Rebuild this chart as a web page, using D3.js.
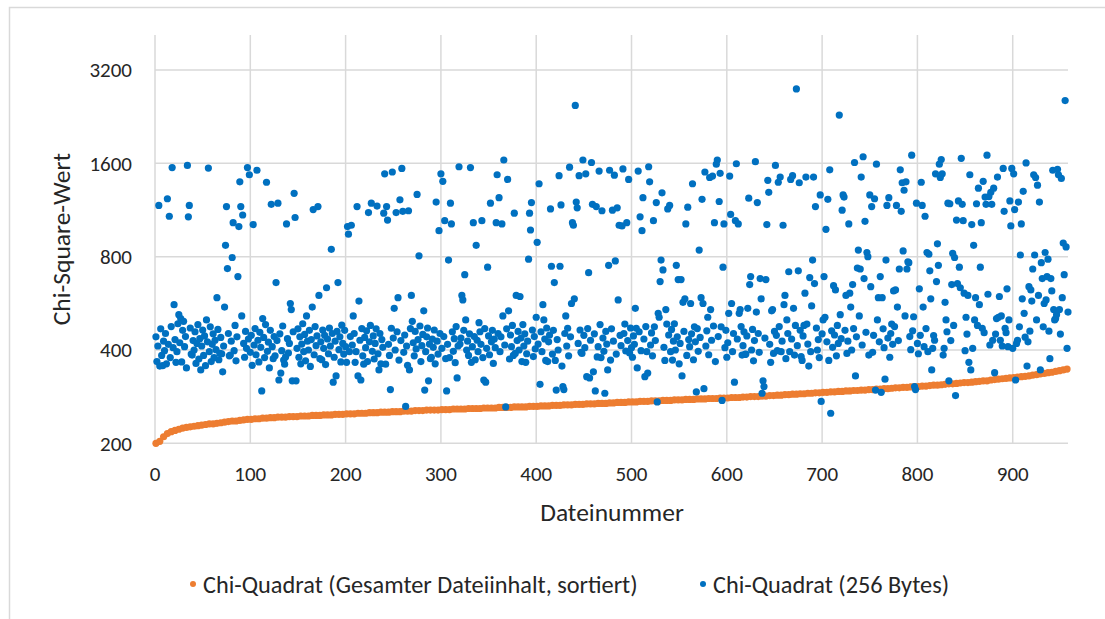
<!DOCTYPE html>
<meta charset="utf-8">

<style>
body { margin: 0; background: #fff; }
text { font-family: Carlito, Lato, sans-serif; fill: #262626; }
.grid line { stroke: #d9d9d9; stroke-width: 1.5; }
.frame { fill: none; stroke: #d9d9d9; stroke-width: 1.5; }
</style>

<svg width="1105" height="619"></svg>
<script src="https://cdn.jsdelivr.net/npm/d3@7"></script>

<script>

// y ticks (log2 axis) and x ticks
var yTicks = [200, 400, 800, 1600, 3200];
var xTicks = [0, 100, 200, 300, 400, 500, 600, 700, 800, 900];

var seriesNames = ["Chi-Quadrat (Gesamter Dateiinhalt, sortiert)", "Chi-Quadrat (256 Bytes)"];

// sorted whole-file values, read every 4th file (files 1, 5, 9, ... 957)
var sortedValues = [
  200,203,210,215,218,220,222,224,225,226,227,228,229,230,231,231,232,233,234,235,
  236,236,237,238,239,239,240,240,241,241,242,242,243,243,243,244,244,244,245,245,
  245,246,246,246,247,247,247,248,248,248,249,249,249,250,250,250,251,251,251,252,
  252,252,253,253,253,254,254,254,255,255,255,256,256,256,256,257,257,257,258,258,
  258,258,259,259,259,259,260,260,260,260,261,261,261,261,262,262,262,262,263,263,
  263,264,264,264,265,265,265,266,266,266,267,267,267,268,268,268,269,269,269,270,
  270,271,271,271,272,272,272,273,273,273,274,274,274,275,275,275,276,276,276,277,
  277,277,278,278,278,279,279,279,280,280,280,281,281,281,282,282,283,283,283,284,
  284,285,285,286,286,287,287,288,288,289,289,290,290,291,291,292,292,293,293,294,
  294,295,295,296,296,297,297,298,298,299,299,300,300,301,302,302,303,303,304,305,
  305,306,306,307,308,308,309,310,311,311,312,313,314,314,315,316,317,318,318,320,
  321,322,323,324,325,326,327,328,329,330,332,333,335,336,338,339,341,343,345,347
];

// chi-square of first 256 bytes, one value per file (files 1..958)
var byteValues = [
  441,367,412,1170,355,468,384,356,427,398,
  452,361,1230,417,1080,378,476,1550,407,560,
  432,365,395,486,520,422,505,366,463,495,
  410,442,350,1575,1075,1170,471,388,385,429,
  400,458,362,420,483,374,435,345,412,464,
  384,444,356,500,425,1545,395,475,367,417,
  451,378,430,401,590,466,372,390,439,389,
  340,412,550,870,1160,732,452,383,385,427,
  795,1030,398,480,369,441,690,1000,1395,1160,
  515,1090,420,379,459,405,1550,434,1470,393,
  446,357,1015,415,469,386,1520,430,366,456,
  408,295,505,439,378,483,1390,396,424,350,
  463,1180,410,375,442,383,660,429,1190,320,
  451,337,398,478,371,360,380,1020,435,391,
  420,565,540,318,458,1280,1070,318,405,468,
  379,441,361,418,486,395,449,369,515,427,
  400,463,354,432,550,1135,386,476,413,444,
  1160,600,375,425,372,464,405,446,359,635,
  434,389,471,412,845,452,315,379,427,330,
  459,660,401,441,366,481,420,388,463,410,
  365,1000,945,395,442,1010,415,515,452,365,
  395,1160,330,575,430,320,469,383,360,439,
  407,461,367,1110,425,480,1190,396,444,374,
  420,468,1165,389,345,452,361,432,408,1105,
  1480,360,1160,1050,417,384,298,470,1500,437,
  545,400,1110,458,590,371,1220,429,1540,1120,
  393,447,263,412,357,1125,345,469,600,495,
  422,383,459,403,1270,432,805,478,367,413,
  449,535,297,395,441,471,318,418,375,379,
  434,408,464,361,1200,427,388,970,452,1480,
  405,1400,442,1045,375,295,417,780,378,1190,
  1020,458,396,435,364,476,325,412,1560,418,
  437,600,580,463,700,500,400,427,384,451,
  1550,365,410,1030,442,372,870,430,395,490,
  458,417,1045,378,320,469,315,405,740,444,
  386,1190,425,463,362,434,407,1030,1470,452,
  1240,395,441,1020,515,1640,415,262,468,1420,
  535,374,447,410,480,384,1105,390,600,429,
  459,400,595,437,367,483,412,451,365,389,
  427,785,1105,975,1195,464,381,442,403,510,
  890,418,1375,310,458,395,560,500,434,370,
  471,367,425,447,1140,745,388,463,660,370,
  297,432,400,1460,745,1175,355,305,298,452,
  515,412,470,383,1555,441,565,1030,1010,585,
  2460,1200,1150,420,1460,464,393,390,1640,446,
  407,1480,328,469,710,325,430,1610,1180,340,
  451,295,1160,380,410,1510,483,378,1125,437,
  396,290,459,418,345,750,1520,371,468,1130,
  427,1465,775,388,1150,580,1010,446,413,1005,
  1535,452,485,397,1030,429,1420,391,471,407,
  379,444,417,545,470,350,1510,458,1075,398,
  970,1240,434,328,476,395,337,1560,1395,415,
  454,383,1045,475,429,1195,272,525,510,665,
  780,1285,725,408,370,540,485,1140,447,1170,
  395,466,371,427,486,400,750,441,675,361,
  420,675,330,570,459,585,1020,384,1155,432,
  410,565,451,1375,372,475,425,293,469,396,
  840,439,590,1225,565,300,1500,412,461,510,
  386,1440,540,430,1455,478,1030,367,1590,1640,
  442,1205,1485,475,275,740,1020,407,463,379,
  422,525,1455,1095,565,395,452,315,1045,1595,
  434,1020,525,540,476,385,413,458,387,388,
  444,545,1235,650,690,400,466,369,429,1620,
  530,1195,452,393,680,585,290,318,305,437,
  675,1015,1410,1290,417,365,535,540,390,459,
  1575,446,398,1390,476,1445,395,427,1010,560,
  600,375,500,452,715,395,1420,434,1460,545,
  385,480,2780,413,720,1385,463,381,370,444,
  480,610,1445,485,418,355,685,395,555,780,
  1445,655,1160,471,400,432,378,1265,273,451,
  500,690,510,980,425,1225,370,1525,250,461,
  408,645,447,625,383,480,420,2290,520,435,
  1130,1265,1245,463,600,390,427,1020,610,550,
  400,650,469,1610,330,441,735,840,515,730,
  1445,415,1680,680,1040,456,825,800,385,1265,
  640,1160,393,446,1230,297,1590,500,590,425,
  690,292,590,468,407,322,780,1170,437,1240,
  379,452,485,417,620,476,625,1170,550,429,
  730,1525,1120,1385,835,1310,515,1395,730,770,
  765,442,401,1700,461,512,305,298,1190,420,
  389,630,446,1390,1170,550,410,1080,469,825,
  395,815,720,585,345,405,445,430,1480,665,
  880,750,1590,1440,1645,1480,385,405,570,500,
  458,1190,318,1185,429,650,820,480,795,285,
  1050,655,1210,740,635,1660,1180,1045,610,398,
  510,450,600,365,1470,345,1015,405,870,500,
  590,1185,480,1330,560,740,1030,470,1400,455,
  1245,1180,1700,605,1250,415,1290,1180,430,1330,
  338,450,505,1445,510,595,430,515,412,1540,
  1120,470,455,630,410,500,1210,1005,1540,405,
  1480,1135,320,420,430,1200,475,810,1020,585,
  1300,525,440,1605,355,425,640,460,625,575,
  730,1470,810,1440,500,1360,600,1200,345,765,
  680,475,565,825,580,690,785,460,375,680,
  620,1520,540,500,505,520,1530,1470,540,450,
  1430,590,885,700,2550,860,405,530
];

var svg = d3.select("svg");

var x = d3.scaleLinear().domain([0, 958]).range([155, 1068]);
var y = d3.scaleLog().base(2).domain([200, 4150]).range([443.3, 35]);

// outer chart frame (only left and top edges fall inside the picture)
svg.append("path")
  .attr("class", "frame")
  .attr("d", "M9.5,619 V7.5 H1105");

var grid = svg.append("g").attr("class", "grid");

grid.selectAll(".hline").data(yTicks).enter().append("line")
  .attr("class", "hline")
  .attr("x1", x(0)).attr("x2", x(958))
  .attr("y1", function(d) { return y(d); })
  .attr("y2", function(d) { return y(d); });

grid.selectAll(".vline").data(xTicks).enter().append("line")
  .attr("class", "vline")
  .attr("x1", function(d) { return x(d); })
  .attr("x2", function(d) { return x(d); })
  .attr("y1", y(200)).attr("y2", y.range()[1]);

// tick labels
svg.selectAll(".ylab").data(yTicks).enter().append("text")
  .attr("class", "ylab")
  .attr("x", 132)
  .attr("y", function(d) { return y(d); })
  .attr("dy", "0.35em")
  .attr("text-anchor", "end")
  .attr("font-size", "21px")
  .text(function(d) { return d; });

svg.selectAll(".xlab").data(xTicks).enter().append("text")
  .attr("class", "xlab")
  .attr("x", function(d) { return x(d); })
  .attr("y", 481)
  .attr("text-anchor", "middle")
  .attr("font-size", "21px")
  .text(function(d) { return d; });

// axis titles
svg.append("text")
  .attr("x", 612).attr("y", 521)
  .attr("text-anchor", "middle")
  .attr("font-size", "25.5px")
  .text("Dateinummer");

svg.append("text")
  .attr("transform", "translate(70," + ((y.range()[0] + y.range()[1]) / 2) + ") rotate(-90)")
  .attr("text-anchor", "middle")
  .attr("font-size", "25.5px")
  .text("Chi-Square-Wert");

// series: sorted first, 256-byte values on top
svg.append("g").selectAll("circle").data(sortedValues).enter().append("circle")
  .attr("cx", function(d, i) { return x(1 + i * 4); })
  .attr("cy", function(d) { return y(d); })
  .attr("r", 3.6)
  .attr("fill", "#ed7d31");

svg.append("g").selectAll("circle").data(byteValues).enter().append("circle")
  .attr("cx", function(d, i) { return x(i + 1); })
  .attr("cy", function(d) { return y(d); })
  .attr("r", 3.6)
  .attr("fill", "#0070c0");

// legend
var legendX = [193, 703];
var legendColors = ["#ed7d31", "#0070c0"];

var legend = svg.selectAll(".legend").data(seriesNames).enter().append("g")
  .attr("class", "legend");

legend.append("circle")
  .attr("cx", function(d, i) { return legendX[i]; })
  .attr("cy", 584)
  .attr("r", 3)
  .attr("fill", function(d, i) { return legendColors[i]; });

legend.append("text")
  .attr("x", function(d, i) { return legendX[i] + 10; })
  .attr("y", 584)
  .attr("dy", "0.35em")
  .attr("font-size", "24.3px")
  .text(function(d) { return d; });

</script>
